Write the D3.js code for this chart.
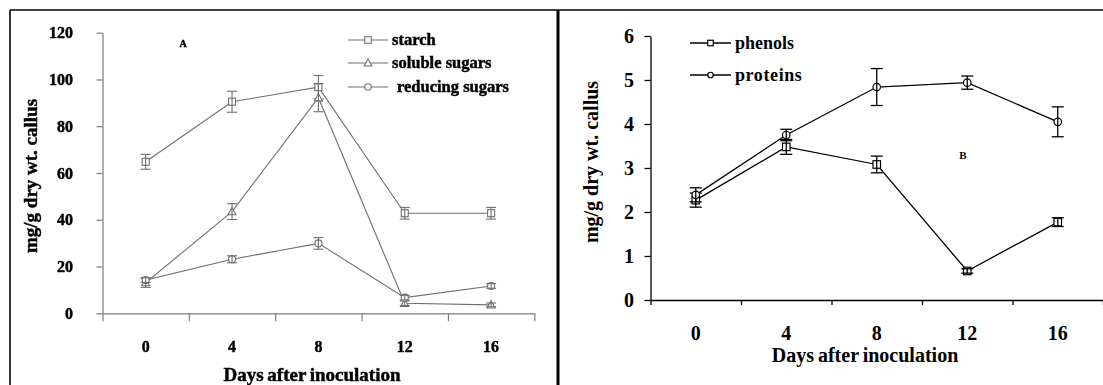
<!DOCTYPE html>
<html>
<head>
<meta charset="utf-8">
<script src="https://cdn.jsdelivr.net/npm/d3@7"></script>
<style>
  html, body { margin: 0; padding: 0; background: #fff; }
  svg { display: block; }
</style>
</head>
<body>
<svg id="fig" width="1103" height="385"></svg>
<script>
// Sampling days (category axis shared by both panels)
const days = ["0", "4", "8", "12", "16"];

// Panel A: carbohydrates (mg/g dry wt. callus) and their error bars
const starch = [64.8, 90.5, 96.7, 42.8, 42.8];
const starchErr = [3.2, 4.5, 5.0, 2.5, 2.5];
const solubleSugars = [13.1, 43.5, 92.2, 4.3, 3.6];
const solubleErr = [2.0, 3.4, 6.0, 1.0, 0.8];
const reducingSugars = [14.2, 23.1, 29.9, 6.7, 11.7];
const reducingErr = [1.0, 1.5, 2.5, 1.0, 1.0];
const ticksA = [0, 20, 40, 60, 80, 100, 120];

// Panel B: phenols and proteins (mg/g dry wt. callus)
const phenols = [2.27, 3.48, 3.08, 0.66, 1.77];
const phenolsErr = [0.16, 0.17, 0.19, 0.05, 0.10];
const proteins = [2.39, 3.75, 4.84, 4.94, 4.05];
const proteinsErr = [0.16, 0.13, 0.42, 0.15, 0.34];
const ticksB = [0, 1, 2, 3, 4, 5, 6];

const FONT = "Liberation Serif";
const svg = d3.select("#fig");

function label(g, heavy) {
  const t = g.append("text").attr("font-family", FONT).style("font-family", FONT)
    .attr("font-weight", "bold").attr("fill", "#000");
  if (heavy) t.attr("stroke", "#000").attr("stroke-width", heavy);
  return t;
}

// Outer frames of the two panels
const frame = svg.append("g").attr("stroke", "#000").attr("fill", "none");
frame.append("line").attr("x1", 10).attr("x2", 1103).attr("y1", 10).attr("y2", 10).attr("stroke-width", 1.6);
frame.append("line").attr("x1", 10).attr("x2", 10).attr("y1", 10).attr("y2", 385).attr("stroke-width", 1.6);
frame.append("line").attr("x1", 558).attr("x2", 558).attr("y1", 10).attr("y2", 385).attr("stroke-width", 3);

function marker(g, shape, size, color, sw) {
  if (shape === "square") {
    g.append("rect").attr("x", -size / 2).attr("y", -size / 2).attr("width", size).attr("height", size)
      .attr("fill", "#fff").attr("stroke", color).attr("stroke-width", sw);
  } else if (shape === "triangle") {
    const h = size * 0.9;
    g.append("path").attr("d", `M0,${-h / 2 - 1}L${size / 2 + 0.5},${h / 2}L${-size / 2 - 0.5},${h / 2}Z`)
      .attr("fill", "#fff").attr("stroke", color).attr("stroke-width", sw);
  } else {
    g.append("circle").attr("r", size / 2).attr("fill", "#fff").attr("stroke", color).attr("stroke-width", sw);
  }
}

function panel(cfg) {
  const g = svg.append("g");
  if (cfg.blur) g.attr("filter", "url(#soft)");
  const x = d3.scaleBand().domain(days).range([cfg.x0, cfg.x1]).paddingInner(0).paddingOuter(0);
  const xEdge = d3.scaleLinear().domain([0, days.length]).range([cfg.x0, cfg.x1]);
  const y = d3.scaleLinear().domain([0, cfg.yMax]).range([cfg.y0, cfg.yTop]);
  const cx = d => x(d) + x.bandwidth() / 2;
  const hv = cfg.textStroke;

  // axes
  const ya = g.append("g").attr("transform", `translate(${cfg.x0},0)`)
    .call(d3.axisLeft(y).tickValues(cfg.ticks).tickSize(cfg.yTick).tickSizeOuter(0).tickFormat(""));
  const xa = g.append("g").attr("transform", `translate(0,${cfg.y0})`)
    .call(d3.axisBottom(xEdge).tickValues(d3.range(days.length + 1)).tickSize(cfg.xTick).tickSizeOuter(0).tickFormat(""));
  [ya, xa].forEach(a => {
    a.selectAll("path,line").attr("stroke", cfg.axisColor).attr("stroke-width", cfg.axisWidth);
  });

  // tick labels
  cfg.ticks.forEach(t => {
    label(g, hv).attr("x", cfg.yLabelRight).attr("y", y(t)).attr("dy", "0.35em")
      .attr("text-anchor", "end").attr("font-size", cfg.tickFont).text(t);
  });
  days.forEach(d => {
    label(g, hv).attr("x", cx(d)).attr("y", cfg.xLabelBase)
      .attr("text-anchor", "middle").attr("font-size", cfg.tickFont).text(d);
  });

  // axis titles
  label(g, hv).attr("x", cfg.xTitle[0]).attr("y", cfg.xTitle[1]).attr("text-anchor", "middle")
    .attr("font-size", cfg.titleFont).attr("word-spacing", cfg.wordSpacing).text("Days after inoculation");
  label(g, hv).attr("transform", `translate(${cfg.yTitle[0]},${cfg.yTitle[1]}) rotate(-90)`)
    .attr("text-anchor", "middle").attr("dy", "0.35em").attr("font-size", cfg.titleFont)
    .text("mg/g dry wt. callus");

  // panel letter
  label(g, hv).attr("x", cfg.letter[0]).attr("y", cfg.letter[1]).attr("text-anchor", "middle")
    .attr("dy", "0.35em").attr("font-size", cfg.letterFont).text(cfg.letter[2]);

  // series
  cfg.series.forEach((s, i) => {
    const line = d3.line().x((d, j) => cx(days[j])).y(d => y(d));
    g.append("path").attr("d", line(s.values)).attr("fill", "none")
      .attr("stroke", cfg.lineColor).attr("stroke-width", cfg.lineWidth);
    s.values.forEach((v, j) => {
      const px = cx(days[j]);
      const m = g.append("g").attr("transform", `translate(${px},${y(v)})`);
      marker(m, s.shape, cfg.markerSize, cfg.lineColor, cfg.markerStroke);
      const eg = g.append("g").attr("stroke", cfg.lineColor).attr("stroke-width", cfg.errWidth);
      const lo = y(v - s.err[j]), hi = y(v + s.err[j]);
      eg.append("line").attr("x1", px).attr("x2", px).attr("y1", lo).attr("y2", hi);
      eg.append("line").attr("x1", px - cfg.cap / 2).attr("x2", px + cfg.cap / 2).attr("y1", lo).attr("y2", lo);
      eg.append("line").attr("x1", px - cfg.cap / 2).attr("x2", px + cfg.cap / 2).attr("y1", hi).attr("y2", hi);
    });

    // legend entry
    const ly = cfg.legend.rows[i];
    g.append("line").attr("x1", cfg.legend.x0).attr("x2", cfg.legend.x1).attr("y1", ly).attr("y2", ly)
      .attr("stroke", cfg.lineColor).attr("stroke-width", cfg.lineWidth);
    const lm = g.append("g").attr("transform", `translate(${(cfg.legend.x0 + cfg.legend.x1) / 2},${ly})`);
    marker(lm, s.shape, cfg.legend.markerSize, cfg.lineColor, cfg.markerStroke);
    label(g, hv).attr("x", cfg.legend.tx + (s.indent || 0)).attr("y", ly).attr("dy", "0.32em")
      .attr("font-size", cfg.legend.font).attr("letter-spacing", s.spacing || 0).text(s.name);
  });
}

const defs = svg.append("defs");
defs.append("filter").attr("id", "soft").append("feGaussianBlur").attr("stdDeviation", 0.45);

panel({
  blur: true, textStroke: 0.45,
  x0: 102.5, x1: 534.3, y0: 313.3, yTop: 32.7, yMax: 120, ticks: ticksA,
  yTick: 6, xTick: 8, axisColor: "#7a7a7a", axisWidth: 1.2,
  yLabelRight: 73, xLabelBase: 352, tickFont: 16,
  xTitle: [312, 381], yTitle: [30, 176], titleFont: 19, wordSpacing: -1,
  letter: [183, 43, "A"], letterFont: 10,
  lineColor: "#6e6e6e", lineWidth: 1.1, markerSize: 7, markerStroke: 1.1, errWidth: 1.1, cap: 10,
  series: [
    { name: "starch", values: starch, err: starchErr, shape: "square" },
    { name: "soluble sugars", values: solubleSugars, err: solubleErr, shape: "triangle" },
    { name: "reducing sugars", values: reducingSugars, err: reducingErr, shape: "circle", indent: 5 }
  ],
  legend: { x0: 348, x1: 388, tx: 392, rows: [40, 63, 87], markerSize: 6.5, font: 16.5 }
});

panel({
  blur: false, textStroke: 0,
  x0: 650.5, x1: 1103, y0: 300, yTop: 36, yMax: 6, ticks: ticksB,
  yTick: 6, xTick: 5, axisColor: "#000", axisWidth: 1.3,
  yLabelRight: 634, xLabelBase: 340, tickFont: 20,
  xTitle: [865, 362], yTitle: [591, 162], titleFont: 20, wordSpacing: -1,
  letter: [963, 155, "B"], letterFont: 11,
  lineColor: "#000", lineWidth: 1.3, markerSize: 7.5, markerStroke: 1.2, errWidth: 1.3, cap: 12,
  series: [
    { name: "phenols", values: phenols, err: phenolsErr, shape: "square" },
    { name: "proteins", values: proteins, err: proteinsErr, shape: "circle", spacing: 0.6 }
  ],
  legend: { x0: 690, x1: 731, tx: 735, rows: [43, 75], markerSize: 5.5, font: 18 }
});
</script>
</body>
</html>
